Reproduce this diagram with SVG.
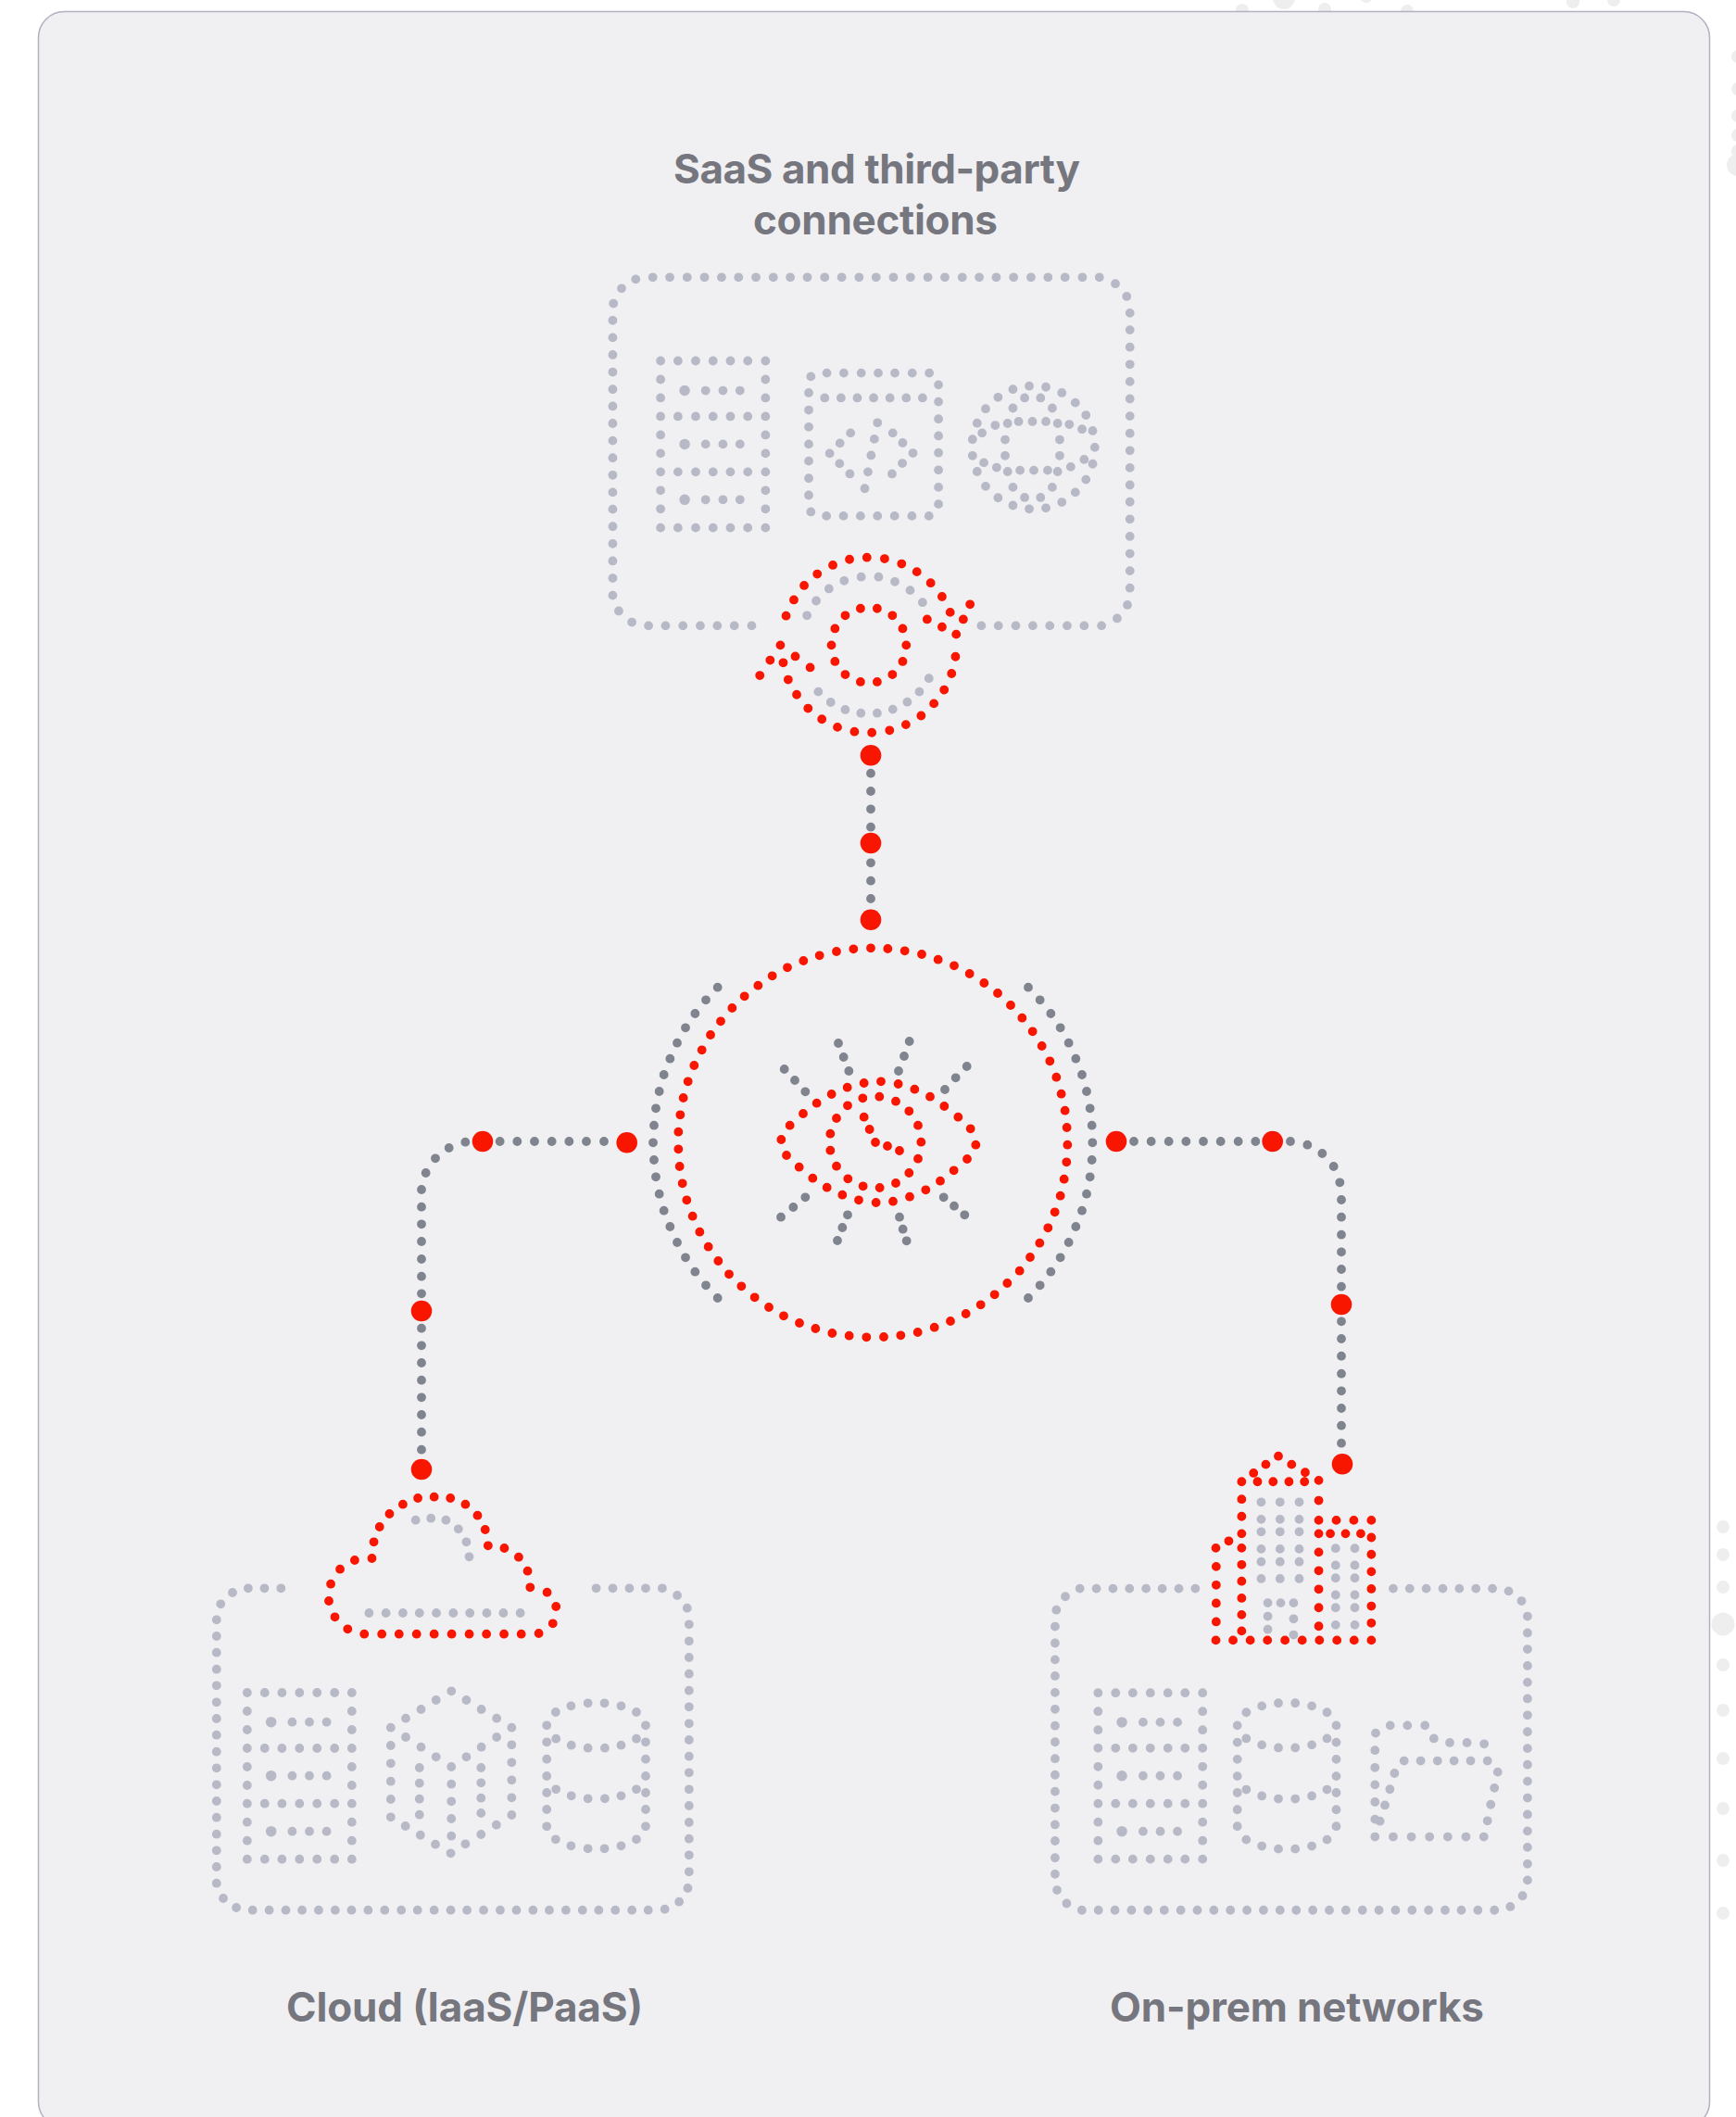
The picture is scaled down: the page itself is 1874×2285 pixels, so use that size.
<svg xmlns="http://www.w3.org/2000/svg" width="1874" height="2285" viewBox="0 0 1874 2285">
<style>
.bg{fill:#eeeeee}
.d{fill:none;stroke-linecap:round;vector-effect:non-scaling-stroke;stroke-width:9.8}
.l{stroke:#b7b9c6}
.g{stroke:#7f848e;stroke-width:9.8}
.r{stroke:#f91600}
.b{stroke:#b7b9c6;stroke-width:11.5}
.n{fill:#f91600}
.t{font-family:"Inter","Liberation Sans",sans-serif;font-weight:700;font-size:44px;fill:#76767f}
</style>
<rect width="1874" height="2285" fill="#ffffff"/>
<g id="backdrop-dots">
<circle class="bg" cx="1341" cy="11" r="7"/><circle class="bg" cx="1386" cy="-2" r="12"/><circle class="bg" cx="1430" cy="10" r="7"/><circle class="bg" cx="1475" cy="-4" r="7"/><circle class="bg" cx="1519" cy="12" r="7"/><circle class="bg" cx="1698" cy="2" r="7"/><circle class="bg" cx="1742" cy="0" r="7"/>
<circle class="bg" cx="1876" cy="61" r="7"/><circle class="bg" cx="1876" cy="96" r="7"/><circle class="bg" cx="1876" cy="125" r="7"/><circle class="bg" cx="1876" cy="146" r="7"/><circle class="bg" cx="1876" cy="163" r="7"/><circle class="bg" cx="1876" cy="178" r="12"/>
<circle class="bg" cx="1860" cy="1648" r="7"/><circle class="bg" cx="1860" cy="1678" r="7"/><circle class="bg" cx="1860" cy="1713" r="7"/><circle class="bg" cx="1860" cy="1753" r="12.5"/><circle class="bg" cx="1860" cy="1797" r="7"/><circle class="bg" cx="1860" cy="1846" r="7"/><circle class="bg" cx="1860" cy="1898" r="7"/><circle class="bg" cx="1860" cy="1952" r="7"/><circle class="bg" cx="1860" cy="2008" r="7"/><circle class="bg" cx="1860" cy="2065" r="7"/>
</g>
<rect id="card" x="41.5" y="12.5" width="1804" height="2284" rx="28" fill="#f0f0f3" stroke="#b1b1c0" stroke-width="1.5"/>

<g id="connectors">
<g transform="translate(430 1200) scale(.33333)">
<path class="d g" d="M329 96h0M385 96h0M441 96h0M497 96h0M553 96h0M609 96h0M666 96h0M217 98h0M164 117h0M120 151h0M89 198h0M75 252h0M75 308h0M75 364h0M75 420h0M75 477h0M75 533h0M75 589h0M75 701h0M75 757h0M75 813h0M75 869h0M75 925h0M75 981h0M75 1037h0M75 1094h0"/>
</g>
<g transform="translate(1180 1200) scale(.33333)">
<path class="d g" d="M132 96h0M188 96h0M245 96h0M301 96h0M357 96h0M413 96h0M470 96h0M526 96h0M639 96h0M694 107h0M742 135h0M779 177h0M799 229h0M804 285h0M804 341h0M804 398h0M804 454h0M804 510h0M804 566h0M804 679h0M804 735h0M804 791h0M804 848h0M804 904h0M804 960h0M804 1016h0M804 1073h0"/>
</g>
<path class="d g" d="M940 834.7h0M940 854h0M940 873.3h0M940 892.7h0M940 931.3h0M940 950.7h0M940 970h0"/>
<circle class="n" cx="940" cy="815.3" r="11.3"/><circle class="n" cx="940" cy="910" r="11.3"/><circle class="n" cx="940" cy="992.7" r="11.3"/>
<circle class="n" cx="521" cy="1232" r="11.3"/><circle class="n" cx="676.7" cy="1233.3" r="11.3"/><circle class="n" cx="455" cy="1415" r="11.3"/><circle class="n" cx="455" cy="1586" r="11.3"/>
<circle class="n" cx="1205" cy="1232" r="11.3"/><circle class="n" cx="1373.7" cy="1232" r="11.3"/><circle class="n" cx="1448" cy="1408" r="11.3"/><circle class="n" cx="1449" cy="1580.3" r="11.3"/>
</g>

<g id="core" transform="translate(680 990) scale(.33333)">
<path class="d g" d="M284 227h0M246 268h0M211 312h0M180 358h0M153 407h0M130 458h0M110 510h0M95 564h0M84 619h0M78 674h0M75 730h0M78 786h0M84 841h0M95 896h0M110 950h0M130 1002h0M153 1053h0M180 1102h0M211 1148h0M246 1192h0M284 1233h0M1290 227h0M1328 268h0M1363 312h0M1394 358h0M1421 407h0M1444 458h0M1464 510h0M1479 564h0M1490 619h0M1496 674h0M1498 730h0M1496 786h0M1490 841h0M1479 896h0M1464 950h0M1444 1002h0M1421 1053h0M1394 1102h0M1363 1148h0M1328 1192h0M1290 1233h0"/>
<path class="d g" d="M500 492h0M534 528h0M568 565h0M675 408h0M692 453h0M709 498h0M905 402h0M888 450h0M870 498h0M1091 483h0M1055 520h0M1020 558h0M489 971h0M529 939h0M568 907h0M705 964h0M688 1005h0M672 1047h0M873 971h0M884 1010h0M896 1048h0M1016 907h0M1050 935h0M1084 964h0"/>
<path class="d r" d="M780 100h0M835 102h0M890 109h0M945 120h0M998 137h0M1050 157h0M1100 183h0M1147 213h0M1191 246h0M1233 285h0M1270 326h0M1304 370h0M1334 417h0M1360 466h0M1381 518h0M1397 572h0M1409 626h0M1415 681h0M1417 737h0M1414 793h0M1406 848h0M1394 902h0M1376 955h0M1354 1006h0M1327 1055h0M1296 1101h0M1262 1145h0M1222 1185h0M1181 1222h0M1136 1255h0M1088 1284h0M1038 1308h0M986 1328h0M932 1344h0M877 1354h0M822 1359h0M766 1360h0M710 1355h0M655 1347h0M601 1332h0M549 1314h0M498 1291h0M450 1263h0M404 1231h0M361 1195h0M321 1156h0M286 1113h0M254 1067h0M226 1019h0M203 968h0M184 916h0M170 862h0M161 807h0M157 751h0M157 695h0M163 640h0M173 585h0M188 532h0M208 480h0M233 430h0M261 381h0M294 337h0M331 294h0M371 256h0M415 221h0M461 190h0M510 163h0M562 141h0M614 124h0M669 111h0M724 103h0"/>
<path class="d r" d="M490 720h0M518 674h0M561 636h0M605 602h0M653 573h0M704 551h0M758 537h0M813 532h0M869 540h0M922 557h0M972 581h0M1018 612h0M1063 647h0M1103 685h0M1120 737h0M1092 783h0M1049 820h0M1005 854h0M958 883h0M906 905h0M852 920h0M797 924h0M741 916h0M688 899h0M638 875h0M592 845h0M548 809h0M507 771h0M649 701h0M669 651h0M705 610h0M754 586h0M808 581h0M861 596h0M904 628h0M933 674h0M943 728h0M933 782h0M904 828h0M861 861h0M809 876h0M755 871h0M706 847h0M669 806h0M649 755h0M758 647h0M776 687h0M795 729h0M834 741h0M873 756h0"/>
</g>

<g id="saas">
<text class="t" x="727" y="198" textLength="439">SaaS and third-party</text>
<text class="t" x="813" y="253" textLength="264">connections</text>
<g transform="translate(640 280) scale(.38265 .34439)">
<path class="d l" d="M169 56h0M217 56h0M266 56h0M315 56h0M363 56h0M411 56h0M460 56h0M509 56h0M557 56h0M605 56h0M654 56h0M702 56h0M751 56h0M799 56h0M848 56h0M896 56h0M945 56h0M993 56h0M1042 56h0M1090 56h0M1138 56h0M1187 56h0M1236 56h0M1284 56h0M1332 56h0M1381 56h0M1429 56h0M121 62h0M81 91h0M58 138h0M56 191h0M56 245h0M56 299h0M56 353h0M56 407h0M56 460h0M56 514h0M56 568h0M56 622h0M56 676h0M56 730h0M56 783h0M56 837h0M56 891h0M56 945h0M56 999h0M56 1053h0M73 1102h0M110 1137h0M157 1148h0M205 1148h0M254 1148h0M303 1148h0M351 1148h0M399 1148h0M448 1148h0M1096 1148h0M1144 1148h0M1193 1148h0M1241 1148h0M1289 1148h0M1338 1148h0M1386 1148h0M1435 1148h0M1479 1125h0M1508 1083h0M1515 1030h0M1515 976h0M1515 922h0M1515 868h0M1515 814h0M1515 760h0M1515 707h0M1515 653h0M1515 599h0M1515 545h0M1515 491h0M1515 437h0M1515 383h0M1515 329h0M1515 275h0M1515 221h0M1515 168h0M1506 116h0M1474 76h0"/>
<path class="d l" d="M191 318h0M240 318h0M290 318h0M339 318h0M388 318h0M437 318h0M487 318h0M191 376h0M487 376h0M191 434h0M487 434h0M191 492h0M240 492h0M290 492h0M339 492h0M388 492h0M437 492h0M487 492h0M191 550h0M487 550h0M191 608h0M487 608h0M191 666h0M240 666h0M290 666h0M339 666h0M388 666h0M437 666h0M487 666h0M191 724h0M487 724h0M191 782h0M487 782h0M191 841h0M240 841h0M290 841h0M339 841h0M388 841h0M437 841h0M487 841h0M318 411h0M367 411h0M415 411h0M318 579h0M367 579h0M415 579h0M318 753h0M367 753h0M415 753h0"/>
<path class="d b" d="M259 411h0M259 579h0M259 753h0"/>
<path class="d l" d="M660 356h0M708 356h0M757 356h0M805 356h0M852 356h0M901 356h0M949 356h0M615 367h0M609 418h0M609 472h0M609 525h0M609 579h0M609 632h0M609 686h0M609 739h0M615 791h0M659 804h0M707 804h0M755 804h0M803 804h0M851 804h0M900 804h0M948 804h0M975 393h0M975 446h0M975 500h0M975 553h0M975 606h0M975 660h0M975 714h0M975 767h0M654 434h0M700 434h0M746 434h0M792 434h0M838 434h0M884 434h0M930 434h0M727 544h0M697 576h0M668 608h0M696 640h0M725 672h0M846 544h0M874 575h0M903 607h0M873 639h0M844 672h0M803 512h0M794 563h0M785 614h0M776 666h0M767 718h0"/>
<path class="d l" d="M1231 397h0M1278 400h0M1323 418h0M1361 449h0M1391 488h0M1410 537h0M1416 589h0M1410 641h0M1391 690h0M1361 730h0M1323 761h0M1278 779h0M1231 782h0M1185 771h0M1143 747h0M1108 711h0M1084 665h0M1071 615h0M1071 564h0M1084 513h0M1108 468h0M1143 432h0M1185 407h0M1218 434h0M1263 434h0M1296 466h0M1317 565h0M1317 615h0M1296 714h0M1263 746h0M1218 746h0M1185 714h0M1163 615h0M1163 565h0M1185 466h0M1098 544h0M1135 520h0M1170 514h0M1201 508h0M1240 508h0M1278 508h0M1311 514h0M1344 517h0M1380 532h0M1103 637h0M1139 652h0M1170 665h0M1205 661h0M1244 661h0M1283 661h0M1311 665h0M1348 650h0M1386 627h0"/>
<path class="d l" d="M604 1116h0M630 1070h0M666 1032h0M709 1007h0M757 995h0M806 995h0M852 1010h0M895 1037h0M930 1075h0M948 1313h0M921 1355h0M887 1387h0M846 1410h0M802 1422h0M756 1422h0M712 1411h0M671 1388h0M636 1355h0"/>
<path class="d r" d="M545 1117h0M567 1067h0M596 1022h0M633 986h0M677 958h0M724 940h0M773 934h0M823 938h0M871 954h0M914 979h0M953 1014h0M985 1057h0M1008 1106h0M1064 1081h0M1045 1128h0M1025 1175h0M985 1152h0M943 1128h0M1023 1245h0M1012 1298h0M991 1349h0M962 1392h0M926 1430h0M883 1458h0M837 1476h0M787 1483h0M738 1480h0M690 1466h0M646 1441h0M607 1407h0M575 1364h0M551 1317h0M471 1304h0M500 1256h0M529 1209h0M571 1244h0M613 1279h0M537 1264h0"/>
<path class="d r" d="M755 1094h0M802 1094h0M845 1116h0M874 1157h0M884 1209h0M874 1260h0M845 1301h0M802 1324h0M755 1324h0M712 1301h0M683 1260h0M673 1209h0M683 1157h0M712 1116h0"/>
</g>
</g>

<g id="cloud">
<text class="t" x="309" y="2182" textLength="385">Cloud (IaaS/PaaS)</text>
<g transform="translate(220 1560) scale(.34439 .33333)">
<path class="d l" d="M139 463h0M190 463h0M242 463h0M1230 463h0M1282 463h0M1334 463h0M1385 463h0M1437 463h0M90 477h0M53 514h0M40 565h0M40 618h0M40 671h0M40 725h0M40 778h0M40 832h0M40 885h0M40 938h0M40 992h0M40 1045h0M40 1099h0M40 1152h0M40 1205h0M40 1259h0M40 1312h0M40 1365h0M40 1418h0M61 1467h0M102 1497h0M153 1505h0M205 1505h0M257 1505h0M308 1505h0M360 1505h0M412 1505h0M463 1505h0M515 1505h0M567 1505h0M619 1505h0M670 1505h0M722 1505h0M774 1505h0M825 1505h0M877 1505h0M929 1505h0M980 1505h0M1032 1505h0M1083 1505h0M1135 1505h0M1187 1505h0M1238 1505h0M1290 1505h0M1342 1505h0M1393 1505h0M1445 1502h0M1490 1478h0M1517 1434h0M1521 1381h0M1521 1327h0M1521 1274h0M1521 1221h0M1521 1167h0M1521 1114h0M1521 1060h0M1521 1007h0M1521 954h0M1521 901h0M1521 847h0M1521 794h0M1521 740h0M1521 687h0M1521 634h0M1521 580h0M1515 527h0M1484 486h0"/>
<path class="d l" d="M136 801h0M191 801h0M245 801h0M300 801h0M355 801h0M410 801h0M464 801h0M136 861h0M464 861h0M136 921h0M464 921h0M136 981h0M191 981h0M245 981h0M300 981h0M355 981h0M410 981h0M464 981h0M136 1041h0M464 1041h0M136 1101h0M464 1101h0M136 1160h0M191 1160h0M245 1160h0M300 1160h0M355 1160h0M410 1160h0M464 1160h0M136 1220h0M464 1220h0M136 1280h0M464 1280h0M136 1340h0M191 1340h0M245 1340h0M300 1340h0M355 1340h0M410 1340h0M464 1340h0M277 896h0M331 896h0M385 896h0M277 1070h0M331 1070h0M385 1070h0M277 1250h0M331 1250h0M385 1250h0"/>
<path class="d b" d="M211 896h0M211 1070h0M211 1250h0"/>
<path class="d l" d="M776 796h0M823 825h0M870 855h0M918 884h0M965 914h0M965 970h0M965 1027h0M965 1084h0M965 1141h0M965 1197h0M917 1229h0M869 1260h0M820 1291h0M774 1321h0M726 1292h0M679 1262h0M632 1233h0M586 1204h0M586 1146h0M586 1088h0M586 1030h0M586 972h0M586 914h0M633 884h0M681 855h0M728 825h0M633 945h0M681 977h0M728 1009h0M776 1041h0M823 1009h0M870 977h0M918 945h0M776 1097h0M776 1153h0M776 1209h0M776 1265h0M676 1044h0M676 1094h0M676 1145h0M676 1196h0M869 1044h0M869 1093h0M869 1142h0M869 1191h0"/>
<path class="d l" d="M1103 864h0M1151 844h0M1204 835h0M1256 835h0M1308 844h0M1356 864h0M1075 907h0M1075 961h0M1075 1016h0M1075 1071h0M1075 1125h0M1075 1179h0M1075 1234h0M1385 907h0M1385 961h0M1385 1016h0M1385 1071h0M1385 1125h0M1385 1179h0M1385 1234h0M1103 1276h0M1151 1297h0M1204 1306h0M1256 1306h0M1308 1297h0M1356 1276h0M1104 950h0M1152 971h0M1204 980h0M1257 980h0M1308 971h0M1356 950h0M1104 1114h0M1152 1135h0M1204 1144h0M1257 1144h0M1308 1135h0M1356 1114h0"/>
<path class="d l" d="M664 242h0M712 236h0M759 242h0M798 271h0M823 313h0M832 361h0M518 543h0M571 543h0M624 543h0M676 543h0M729 543h0M782 543h0M834 543h0M887 543h0M939 543h0M992 543h0"/>
<path class="d r" d="M671 171h0M722 167h0M773 171h0M820 191h0M858 227h0M882 273h0M891 325h0M942 333h0M987 362h0M1015 407h0M1023 460h0M1076 476h0M1104 522h0M1094 577h0M1050 609h0M995 611h0M941 611h0M886 611h0M832 611h0M777 611h0M722 611h0M667 611h0M612 611h0M558 611h0M503 611h0M451 595h0M411 556h0M392 504h0M398 449h0M427 401h0M473 372h0M527 366h0M533 313h0M551 264h0M582 222h0M624 191h0"/>
</g>
</g>

<g id="onprem">
<text class="t" x="1198" y="2182" textLength="404">On-prem networks</text>
<g transform="translate(1120 1540) scale(.35714 .34439)">
<path class="d l" d="M128 507h0M178 507h0M228 507h0M278 507h0M328 507h0M377 507h0M427 507h0M477 507h0M84 532h0M57 574h0M53 626h0M53 678h0M53 730h0M53 781h0M53 833h0M53 885h0M53 937h0M53 988h0M53 1040h0M53 1091h0M53 1143h0M53 1195h0M53 1247h0M53 1298h0M53 1351h0M53 1402h0M59 1452h0M88 1494h0M134 1515h0M184 1515h0M234 1515h0M284 1515h0M334 1515h0M383 1515h0M433 1515h0M483 1515h0M533 1515h0M583 1515h0M633 1515h0M683 1515h0M733 1515h0M782 1515h0M832 1515h0M882 1515h0M932 1515h0M982 1515h0M1032 1515h0M1082 1515h0M1132 1515h0M1182 1515h0M1232 1515h0M1281 1515h0M1331 1515h0M1381 1515h0M1429 1504h0M1466 1470h0M1481 1421h0M1481 1370h0M1481 1318h0M1481 1267h0M1481 1215h0M1481 1163h0M1481 1111h0M1481 1059h0M1481 1008h0M1481 956h0M1481 904h0M1481 852h0M1481 801h0M1481 749h0M1481 697h0M1481 646h0M1481 594h0M1463 546h0M1424 515h0M1375 507h0M1325 507h0M1275 507h0M1225 507h0M1175 507h0M1125 507h0M1075 507h0"/>
<path class="d l" d="M676 236h0M733 236h0M791 236h0M676 290h0M733 290h0M791 290h0M676 329h0M733 329h0M791 329h0M676 383h0M733 383h0M791 383h0M676 423h0M733 423h0M791 423h0M676 476h0M733 476h0M791 476h0M696 552h0M735 552h0M774 552h0M696 594h0M774 602h0M696 635h0M774 652h0M901 381h0M959 381h0M901 434h0M959 434h0M901 474h0M959 474h0M901 527h0M959 527h0M901 567h0M959 567h0M901 621h0M959 621h0"/>
<path class="d l" d="M183 834h0M236 834h0M288 834h0M341 834h0M394 834h0M446 834h0M499 834h0M183 892h0M499 892h0M183 950h0M499 950h0M183 1007h0M236 1007h0M288 1007h0M341 1007h0M394 1007h0M446 1007h0M499 1007h0M183 1065h0M499 1065h0M183 1123h0M499 1123h0M183 1181h0M236 1181h0M288 1181h0M341 1181h0M394 1181h0M446 1181h0M499 1181h0M183 1239h0M499 1239h0M183 1297h0M499 1297h0M183 1355h0M236 1355h0M288 1355h0M341 1355h0M394 1355h0M446 1355h0M499 1355h0M319 926h0M371 926h0M423 926h0M319 1094h0M371 1094h0M423 1094h0M319 1268h0M371 1268h0M423 1268h0"/>
<path class="d b" d="M255 926h0M255 1094h0M255 1268h0"/>
<path class="d l" d="M631 895h0M678 875h0M728 866h0M779 866h0M829 875h0M875 895h0M604 936h0M604 989h0M604 1042h0M604 1095h0M604 1147h0M604 1200h0M604 1252h0M903 936h0M903 989h0M903 1042h0M903 1095h0M903 1147h0M903 1200h0M903 1252h0M631 1294h0M678 1314h0M728 1323h0M779 1323h0M829 1314h0M875 1294h0M631 977h0M678 997h0M728 1006h0M779 1006h0M829 997h0M875 977h0M631 1137h0M678 1157h0M728 1166h0M779 1166h0M829 1157h0M875 1137h0"/>
<path class="d l" d="M1022 960h0M1066 936h0M1118 936h0M1171 936h0M1198 977h0M1246 990h0M1298 990h0M1350 994h0M1020 1014h0M1020 1068h0M1020 1122h0M1020 1176h0M1020 1230h0M1020 1285h0M1075 1285h0M1130 1285h0M1185 1285h0M1240 1285h0M1295 1285h0M1349 1285h0M1108 1047h0M1158 1047h0M1209 1047h0M1259 1047h0M1309 1047h0M1360 1047h0M1391 1082h0M1381 1132h0M1370 1184h0M1360 1235h0M1079 1086h0M1065 1136h0M1050 1186h0M1035 1236h0"/>
<path class="d r" d="M728 92h0M690 118h0M653 145h0M768 118h0M809 143h0M617 172h0M665 172h0M712 172h0M760 172h0M807 172h0M850 168h0M617 227h0M617 281h0M617 335h0M617 380h0M617 432h0M617 484h0M617 537h0M617 589h0M617 640h0M850 231h0M850 293h0M850 335h0M850 393h0M850 451h0M850 509h0M850 567h0M850 625h0M903 293h0M956 293h0M1009 293h0M885 335h0M931 335h0M977 335h0M1009 347h0M1009 400h0M1009 454h0M1009 508h0M1009 562h0M1009 615h0M539 380h0M578 358h0M540 438h0M540 496h0M540 553h0M540 611h0M539 669h0M591 669h0M643 669h0M695 669h0M748 669h0M800 669h0M852 669h0M905 669h0M957 669h0M1009 669h0"/>
</g>
</g>
</svg>
